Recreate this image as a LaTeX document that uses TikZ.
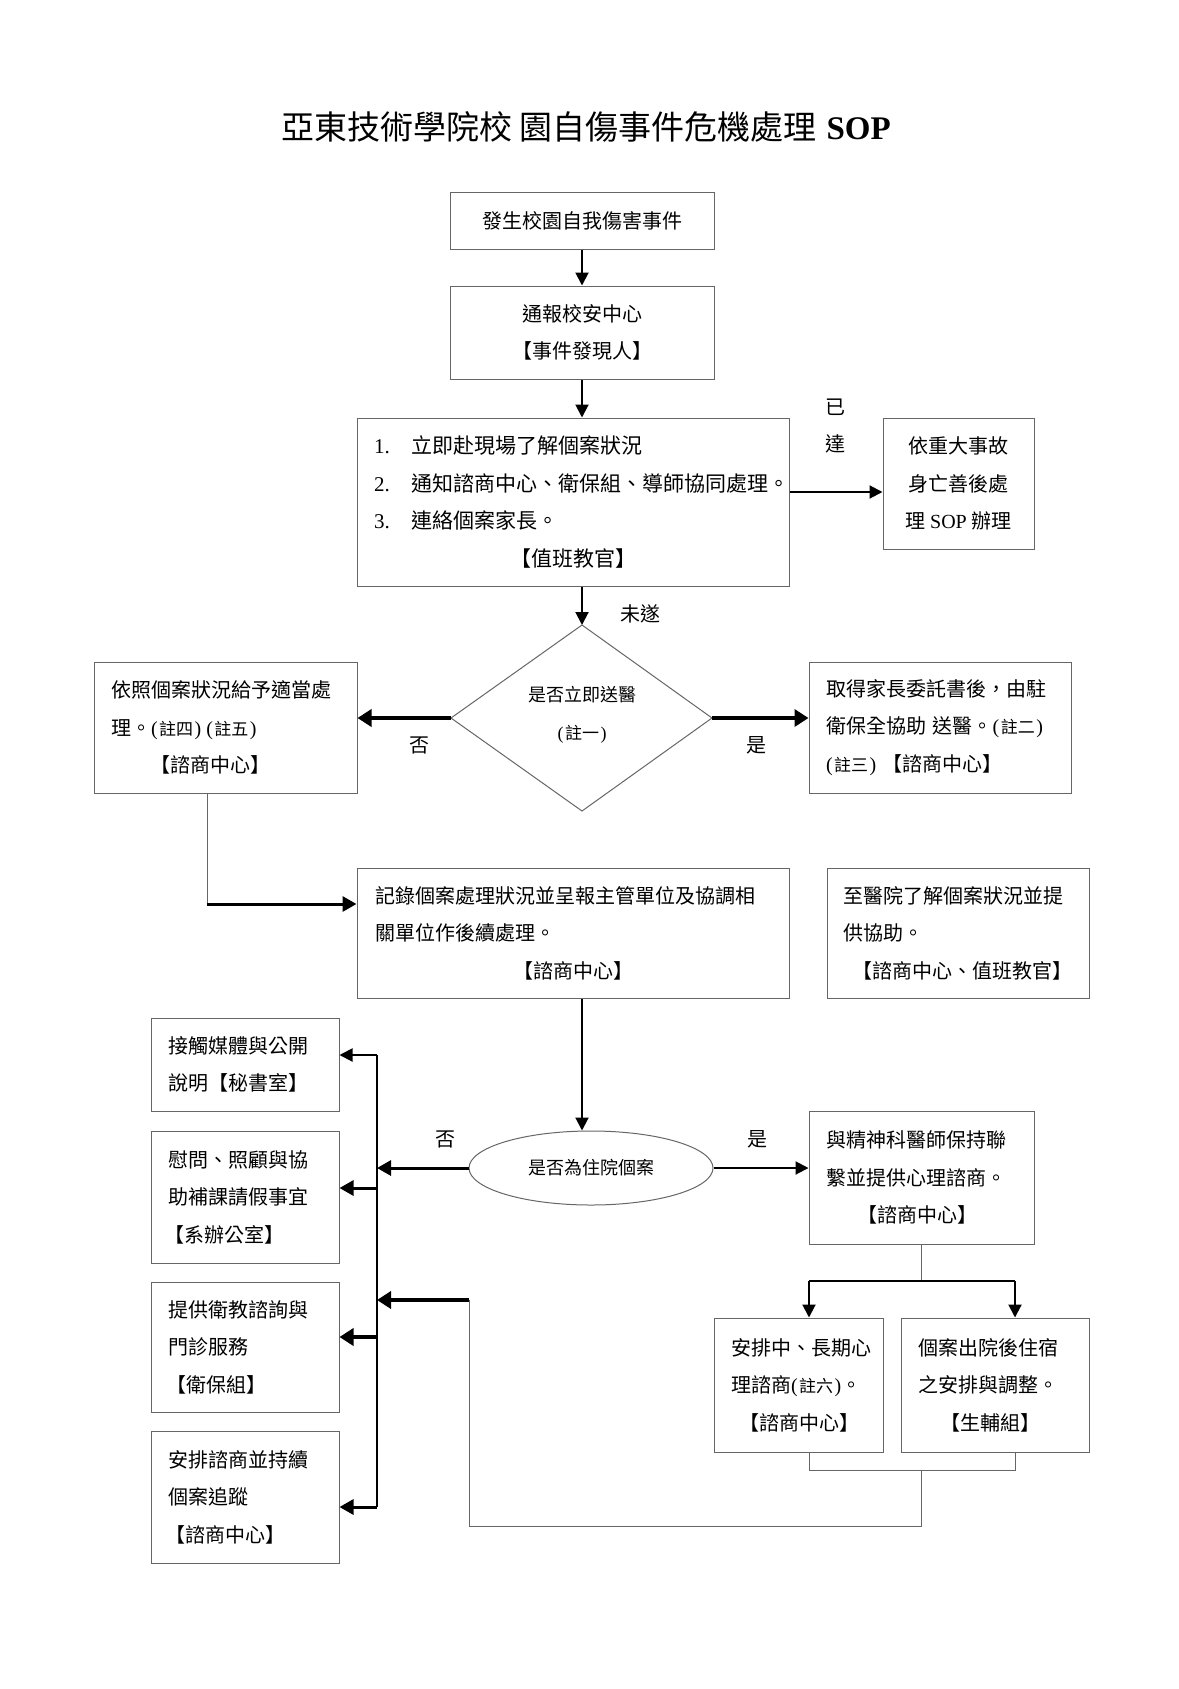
\documentclass[tikz,border=0pt]{standalone}
\usepackage{fontspec}
\setmainfont{Noto Sans CJK TC}
\newfontfamily\lat{Liberation Serif}
\usetikzlibrary{arrows.meta,shapes.geometric}
\newcommand{\zu}[1]{{\lat(}\hspace{1.5pt}{\fontsize{17}{17}\selectfont #1}\hspace{1.5pt}{\lat)}}
\begin{document}
\begin{tikzpicture}[x=1pt,y=-1pt,
 box/.style={draw=black!60, line width=1pt, inner xsep=17pt, inner ysep=0pt, align=left, font=\fontsize{20}{37.5}\selectfont},
 cbox/.style={draw=black!60, line width=1pt, inner sep=0pt, align=center, font=\fontsize{20}{37.5}\selectfont},
 lbl/.style={font=\fontsize{20}{20}\selectfont, inner sep=0pt},
 arr/.style={-{Triangle[length=13pt,width=13pt]}, line width=2pt},
 marr/.style={-{Triangle[length=14pt,width=15pt]}, line width=3pt},
 tarr/.style={-{Triangle[length=14pt,width=17pt]}, line width=4pt},
 gline/.style={draw=black!60, line width=1pt}
]
\useasboundingbox (0,0) rectangle (1178,1689);
\fill[white] (0,0) rectangle (1178,1689);

\node[font=\fontsize{33}{33}\selectfont, inner sep=0pt] (title) at (586,127) {亞東技術學院校 園自傷事件危機處理\hspace{10pt}{\lat\bfseries SOP}};

\node[cbox, minimum width=264pt, minimum height=57pt] (b1) at (582,220.5) {發生校園自我傷害事件};
\node[cbox, minimum width=264pt, minimum height=93pt] (b2) at (582,332.5) {通報校安中心\\【事件發現人】};
\node[box, minimum width=432pt, minimum height=168pt, text width=398pt, font=\fontsize{21}{37.5}\selectfont] (b3) at (573,502)
 {\makebox[37pt][l]{\lat 1.}立即赴現場了解個案狀況\\\makebox[37pt][l]{\lat 2.}通知諮商中心、衛保組、導師協同處理。\\\makebox[37pt][l]{\lat 3.}連絡個案家長。\\\makebox[\hsize][c]{【值班教官】}};
\node[cbox, minimum width=151pt, minimum height=131pt] (bR) at (958.5,483.5) {依重大事故\\身亡善後處\\理 {\lat SOP} 辦理};

\coordinate (dT) at (582,625);
\coordinate (dB) at (582,811);
\coordinate (dL) at (451,718);
\coordinate (dR) at (712,718);
\draw[gline] (dT) -- (dR) -- (dB) -- (dL) -- cycle;
\node[align=center, font=\fontsize{18}{38}\selectfont, inner sep=0pt] (dtext) at (582,715) {是否立即送醫\\\zu{註一}};

\node[box, minimum width=263pt, minimum height=131pt, text width=229pt] (L1) at (225.5,727.5)
 {依照個案狀況給予適當處\\理。\zu{註四}\hspace{5pt}\zu{註五}\\\hspace*{39pt}【諮商中心】};
\node[box, minimum width=262pt, minimum height=131pt, text width=228pt] (R1) at (940,727.5)
 {取得家長委託書後，由駐\\衛保全協助 送醫。\zu{註二}\\\zu{註三} 【諮商中心】};

\node[box, minimum width=432pt, minimum height=130pt, text width=396pt, inner xsep=18pt] (C) at (573,933)
 {記錄個案處理狀況並呈報主管單位及協調相\\關單位作後續處理。\\\makebox[\hsize][c]{【諮商中心】}};
\node[box, minimum width=262pt, minimum height=130pt, text width=230pt, inner xsep=16pt] (H) at (958,933)
 {至醫院了解個案狀況並提\\供協助。\\\hspace*{9pt}【諮商中心、值班教官】};

\node[ellipse, draw=black!60, line width=1pt, minimum width=244pt, minimum height=74pt, inner sep=0pt, font=\fontsize{18}{18}\selectfont] (E) at (591,1168) {是否為住院個案};

\node[box, minimum width=225pt, minimum height=133pt, text width=191pt] (P) at (921.5,1177.5)
 {與精神科醫師保持聯\\繫並提供心理諮商。\\\hspace*{31pt}【諮商中心】};
\node[box, minimum width=169pt, minimum height=134pt, text width=135pt] (S1) at (798.5,1385)
 {安排中、長期心\\理諮商\zu{註六}。\\\hspace*{8pt}【諮商中心】};
\node[box, minimum width=188pt, minimum height=134pt, text width=154pt] (S2) at (995,1385)
 {個案出院後住宿\\之安排與調整。\\\hspace*{22pt}【生輔組】};

\node[box, minimum width=188pt, minimum height=93pt, text width=154pt] (A1) at (245,1064.5) {接觸媒體與公開\\說明【秘書室】};
\node[box, minimum width=188pt, minimum height=132pt, text width=154pt] (A2) at (245,1197) {慰問、照顧與協\\助補課請假事宜\\\hspace*{-4pt}【系辦公室】};
\node[box, minimum width=188pt, minimum height=130pt, text width=154pt] (A3) at (245,1347) {提供衛教諮詢與\\門診服務\\\hspace*{-2pt}【衛保組】};
\node[box, minimum width=188pt, minimum height=132pt, text width=154pt] (A4) at (245,1497) {安排諮商並持續\\個案追蹤\\\hspace*{-3pt}【諮商中心】};

\node[lbl] (yi) at (835,407) {已};
\node[lbl] (da) at (835,444) {達};
\node[lbl] (ws) at (640,614) {未遂};
\node[lbl] (no1) at (419,745) {否};
\node[lbl] (yes1) at (756,745) {是};
\node[lbl] (no2) at (445,1139) {否};
\node[lbl] (yes2) at (757,1139) {是};

% connectors
\draw[arr] (b1.south) -- (b2.north);
\draw[arr] (b2.south) -- (b2.south |- b3.north);
\draw[arr] (b3.south -| dT) -- (dT);
\coordinate (y492) at (0,492);
\draw[arr] (b3.east |- y492) -- (bR.west |- y492);
\draw[tarr] (dL) -- (dL -| L1.east);
\draw[tarr] (dR) -- (dR -| R1.west);

\coordinate (k1) at (207,904);
\draw[gline] (L1.south -| k1) -- (k1);
\draw[marr] (k1) -- (k1 -| C.west);

\coordinate (cx) at (582,0);
\draw[arr] (C.south -| cx) -- (E.north -| cx);

\coordinate (bt) at (377,1055);
\coordinate (bb) at (377,1507);
\draw[line width=1.5pt] (bt) -- (bb);
\draw[marr] (E.west) -- (E.west -| bt);
\draw[arr] (E.east) -- (E.east -| P.west);
\draw[arr] (bt) -- (bt -| A1.east);
\coordinate (a2) at (377,1188);
\draw[marr] (a2) -- (a2 -| A2.east);
\coordinate (a3) at (377,1337);
\draw[tarr] (a3) -- (a3 -| A3.east);
\draw[marr] (bb) -- (bb -| A4.east);

\coordinate (pj) at (921,1281);
\draw[gline] (P.south) -- (P.south |- pj);
\coordinate (s1t) at (809,1281);
\coordinate (s2t) at (1015,1281);
\draw[line width=2pt] (s1t) -- (s2t);
\draw[arr] (s1t) -- (s1t |- S1.north);
\draw[arr] (s2t) -- (s2t |- S2.north);

\coordinate (l1) at (809,1470);
\coordinate (l2) at (1015,1470);
\coordinate (lm) at (921,1470);
\coordinate (lb) at (921,1526);
\coordinate (lc) at (469,1526);
\coordinate (ld) at (469,1300);
\draw[gline] (l1 |- S1.south) -- (l1) -- (l2) -- (l2 |- S2.south);
\draw[gline] (lm) -- (lb) -- (lc) -- (ld);
\draw[tarr] (ld) -- (ld -| bt);
\end{tikzpicture}
\end{document}
